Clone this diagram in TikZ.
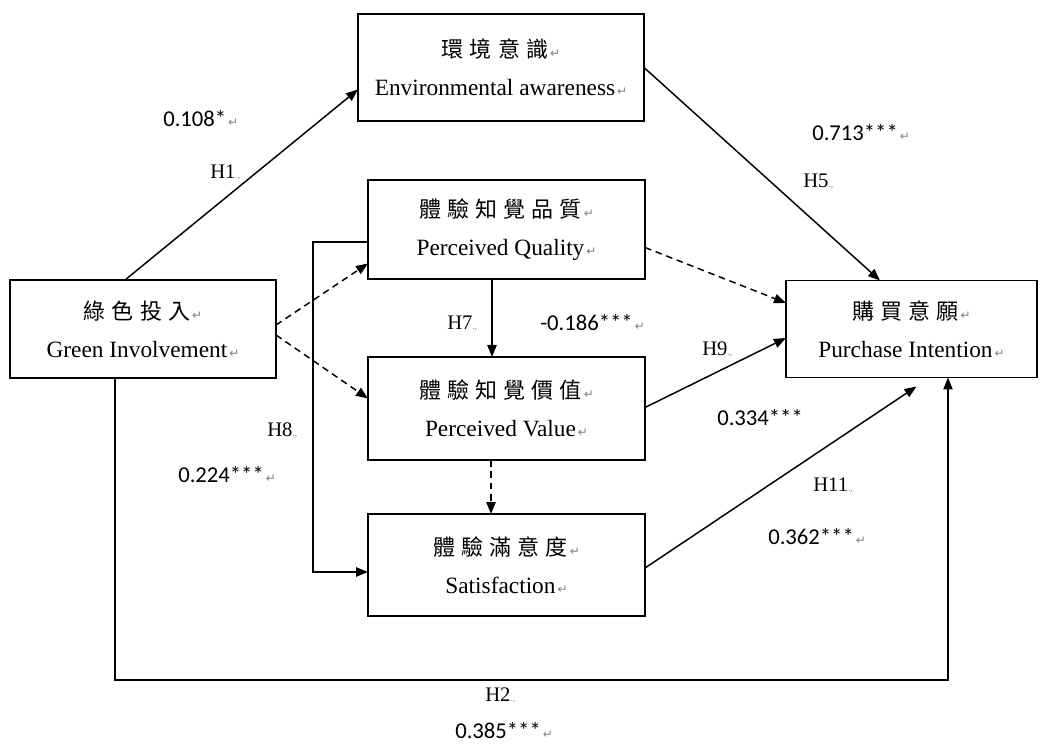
\documentclass[tikz,border=0pt]{standalone}
\usepackage{fontspec}
\setmainfont{Liberation Serif}
\newfontfamily\cjkfont[LetterSpace=28]{Noto Sans CJK TC}
\newfontfamily\numfont{Carlito}
\newfontfamily\markfont{DejaVu Sans}
\usetikzlibrary{positioning,calc,arrows.meta}

% one pixel of the drawing
\newdimen\px \px=0.75pt
% word paragraph marks
\newcommand{\crmark}{{\markfont\fontsize{9}{9}\selectfont\textcolor{gray}{\,↵}}}
\newcommand{\hmark}{{\fontsize{7}{7}\selectfont\textcolor{gray}{.,}}}
\newcommand{\zh}[1]{{\cjkfont\fontsize{16.5}{28.5}\selectfont #1}}

\begin{document}
\begin{tikzpicture}[x=0.75pt,y=-0.75pt,
  box/.style={draw,line width=1.1pt,inner sep=0pt,outer sep=0pt,align=center,
    font=\fontsize{17.5}{28.5}\selectfont},
  arr/.style={line width=1.1pt,-{Triangle[length=9pt,width=7pt]}},
  dsh/.style={arr,dash pattern=on 5pt off 3.5pt},
  coef/.style={anchor=west,inner sep=0pt,font=\numfont\fontsize{17}{17}\selectfont},
  hyp/.style={anchor=west,inner sep=0pt,font=\fontsize{15.5}{15.5}\selectfont}]
  \useasboundingbox (0,0) rectangle (1047,745);

  % the six constructs
  \node[box,minimum width=286\px,minimum height=107\px] (env) at (501,67.5)
    {\zh{環境意識}\crmark\\Environmental awareness\crmark};
  \node[box,minimum width=266\px,minimum height=98\px] (gi) at (143,329)
    {\zh{綠色投入}\crmark\\Green Involvement\crmark};
  \node[box,minimum width=277\px,minimum height=99\px] (pq) at (506.5,229.5)
    {\zh{體驗知覺品質}\crmark\\Perceived Quality\crmark};
  \node[box,minimum width=277\px,minimum height=103\px] (pv) at (506.5,408.5)
    {\zh{體驗知覺價值}\crmark\\Perceived Value\crmark};
  \node[box,minimum width=277\px,minimum height=102\px] (sat) at (506.5,565)
    {\zh{體驗滿意度}\crmark\\Satisfaction\crmark};
  \node[box,minimum width=251\px,minimum height=97\px] (pi) at (911.5,329)
    {\zh{購買意願}\crmark\\Purchase Intention\crmark};

  % solid paths
  \draw[arr] ($(gi.north)+(-18,0)$) -- ($(env.west)+(0,22)$);
  \draw[arr] (env.east) -- ($(pi.north)+(-31.5,0)$);
  \draw[arr] ($(pq.south)+(-14.5,0)$) -- ($(pv.north)+(-14.5,0)$);
  \draw[arr] ($(pv.east)+(0,-1)$) -- ($(pi.west)+(0,9)$);
  \draw[arr] ($(sat.east)+(0,3)$) -- ($(pi.south)+(5,9)$);
  % H8 goes round on the left, H2 along the bottom
  \draw[arr] ($(pq.west)+(0,12.5)$) -| (313,572) -- ($(sat.west)+(0,7)$);
  \draw[arr] ($(gi.south)+(-28,0)$) |- (948,680) -- ($(pi.south)+(36.5,0)$);

  % dashed paths
  \draw[dsh] ($(gi.east)+(0,-4)$) -- ($(pq.west)+(0,34)$);
  \draw[dsh] ($(gi.east)+(0,6)$) -- ($(pv.west)+(0,-10)$);
  \draw[dsh] ($(pq.east)+(0,18)$) -- ($(pi.west)+(0,-26)$);
  \draw[dsh] ($(pv.south)+(-15.5,0)$) -- ($(sat.north)+(-15.5,0)$);

  % hypotheses and coefficients
  \node[coef] (c1) at (163,119) {0.108*\crmark};
  \node[hyp] (h1) at (210,172) {H1\hmark};
  \node[coef] (c5) at (812,133) {0.713***\crmark};
  \node[hyp] (h5) at (803,181) {H5\hmark};
  \node[hyp] (h7) at (447,323) {H7\hmark};
  \node[coef] (c7) at (540,323) {-0.186***\crmark};
  \node[hyp] (h9) at (702,349) {H9\hmark};
  \node[coef] (c9) at (717,418) {0.334***};
  \node[hyp] (h8) at (267,430) {H8\hmark};
  \node[coef] (c8) at (178,475) {0.224***\crmark};
  \node[hyp] (h11) at (813,485) {H11\hmark};
  \node[coef] (c11) at (768,537) {0.362***\crmark};
  \node[hyp] (h2) at (485,695) {H2\hmark};
  \node[coef] (c2) at (455,731) {0.385***\crmark};
\end{tikzpicture}
\end{document}
